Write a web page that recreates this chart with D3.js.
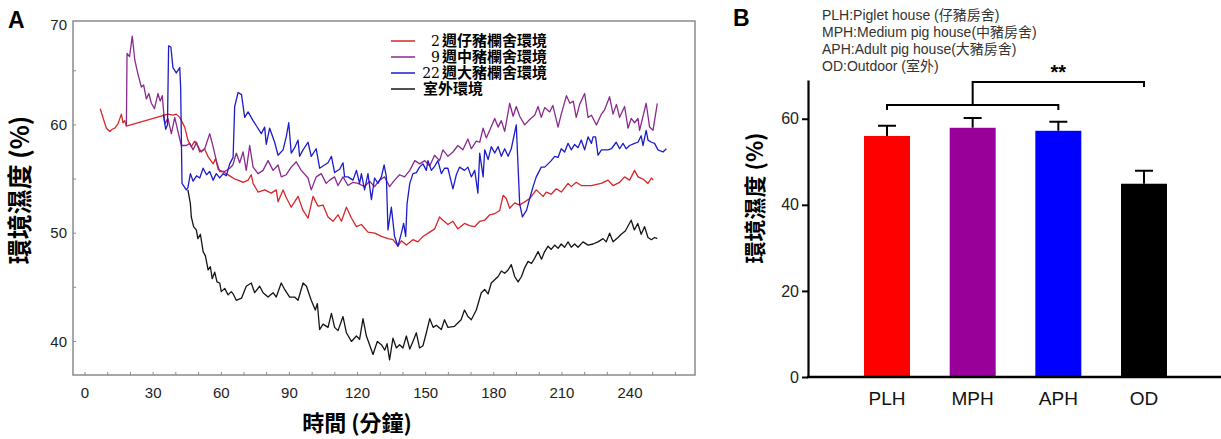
<!DOCTYPE html>
<html>
<head>
<meta charset="utf-8">
<script src="https://cdn.jsdelivr.net/npm/d3@7"></script>
<style>
body { margin: 0; background: #fff; }
svg { display: block; }
</style>
</head>
<body>
<svg id="chart" width="1221" height="439"></svg>
<script>
// panel A: humidity over time, [minute, %]
let pigletHouse = [[6.7,61.5],[8,60.6],[9.4,59.7],[10.9,59.4],[12,59.6],[13.1,59.7],[14.5,60.1],[16,61.0],[16.7,60.2],[17.5,60.4],[18.2,59.9],[36.5,61.0],[38.7,60.9],[40.2,61.0],[41.7,60.7],[43.9,59.8],[45.3,58.6],[46.8,58.0],[48.3,58.5],[49.8,58.0],[51.2,57.5],[52.6,57.8],[54.1,57.1],[56.4,56.4],[57.5,56.9],[58.6,55.9],[60.5,55.7],[62.2,55.5],[64.4,55.2],[65.9,55.0],[67.4,54.9],[69.6,54.7],[71.8,54.9],[73.2,55.4],[74,54.6],[76.2,53.8],[79.1,54.0],[82,53.7],[84.2,54.0],[85,52.9],[87.2,54.0],[88.6,53.3],[90.8,52.4],[93.8,53.4],[96,52.1],[98.2,51.4],[100.4,53.4],[102.6,52.5],[104.8,52.6],[107,51.5],[109.2,51.1],[111.4,51.7],[112.9,51.1],[115.1,52.4],[117.3,51.4],[119.5,50.6],[121.7,50.8],[124.6,50.1],[127.6,50.0],[130.5,49.7],[133.4,49.5],[135.6,49.4],[137.8,48.8],[139.3,49.3],[141.5,48.9],[144.4,49.4],[146.6,49.2],[148.8,49.7],[151.8,50.1],[154,50.4],[156.1,51.5],[157.6,51.2],[159.8,50.8],[162,51.1],[164.2,50.4],[167.1,50.9],[169.3,50.7],[171.6,50.6],[173.8,51.1],[176,51.2],[178.2,51.7],[180.4,51.8],[182.6,52.1],[184.1,53.5],[185.5,53.2],[187,52.3],[189.2,52.8],[191.4,52.6],[192.9,52.8],[195.8,53.2],[198.7,54.0],[201.7,53.4],[203.1,53.8],[205.3,53.6],[207.5,54.1],[209.7,53.8],[212.7,54.6],[214.1,54.3],[216.3,54.7],[218.5,54.4],[222.9,54.4],[227.3,54.6],[230.3,54.9],[232.5,54.4],[235.4,54.7],[237.6,55.2],[239.8,54.9],[242,55.8],[243.5,55.2],[245.7,55.0],[247.9,54.6],[249.4,55.1],[250.2,54.9]];

let mediumHouse = [[18.2,59.9],[18.5,66.6],[19.6,66.3],[20.8,68.2],[21.9,66.0],[23.3,64.7],[24.8,63.5],[25.8,63.7],[27,62.4],[28.1,62.9],[29.2,62.0],[30.6,61.5],[32.1,62.9],[33.1,62.2],[34,62.7],[35.1,60.1],[36.5,60.6],[38,59.2],[39.5,60.7],[40.9,59.4],[42.4,58.1],[44.6,58.1],[46.1,58.3],[47.6,57.7],[49.1,58.4],[50.5,57.5],[52.7,57.8],[54.9,59.2],[56.4,58.0],[57.8,56.7],[59.3,55.7],[61.5,55.7],[63.7,56.0],[65.1,56.3],[66.6,57.4],[68.1,56.5],[69.6,57.5],[71,55.8],[72.5,58.1],[74,56.1],[76.2,55.5],[78.4,55.8],[80.6,56.7],[82.8,55.8],[85,56.3],[86.4,55.2],[88.6,55.4],[90.8,56.1],[93,56.6],[95.2,55.8],[98.2,55.1],[99.6,54.0],[101.8,55.2],[104,55.5],[106.2,54.6],[107.7,54.9],[109.9,55.2],[111.4,54.4],[113.6,55.2],[115.8,54.4],[118,54.7],[120.2,54.6],[123.1,54.3],[125.3,54.8],[127.5,54.3],[129.7,54.9],[131.9,55.2],[134.1,54.3],[136.3,54.9],[138.5,55.4],[140.7,55.2],[143,55.8],[145.2,56.7],[147.4,56.4],[149.6,56.7],[151.8,56.2],[153.9,57.2],[156.1,56.7],[157.6,57.7],[159.8,57.1],[162,57.5],[164.2,58.1],[166.4,57.7],[168.6,58.7],[170.1,57.8],[172.3,58.5],[173.8,58.4],[175.3,59.7],[176.7,58.8],[178.2,59.5],[180.4,60.6],[181.9,59.8],[183.3,60.4],[184.8,59.4],[187,62.0],[188.5,60.8],[189.9,61.7],[191.4,60.8],[193.6,60.0],[195.8,60.5],[198,60.9],[199.5,61.7],[200.9,60.7],[202.4,61.6],[204.6,61.2],[206,61.8],[208.3,59.8],[209.7,61.0],[212,62.7],[213.5,62.0],[215,62.2],[216.3,60.7],[217.8,61.9],[220,62.9],[221.5,60.7],[223,60.9],[225.2,60.0],[227.4,61.0],[228.8,61.4],[231,62.6],[232.5,61.0],[234,61.9],[235.4,60.7],[237.6,61.7],[239.1,59.7],[240.5,60.6],[242,60.2],[243.5,60.6],[244.2,59.5],[247.1,62.0],[248.6,59.8],[250.1,59.5],[252,62.0]];

let adultHouse = [[34.5,61.0],[35.5,59.6],[36.3,60.0],[36.8,67.3],[37.8,67.2],[38.7,65.3],[40.2,64.8],[41.7,65.3],[42.1,63.5],[42.7,54.6],[44.6,54.0],[45.3,54.2],[46.4,55.5],[47.6,54.8],[49.1,55.3],[50.5,55.1],[52,56.0],[53.5,55.4],[54.9,55.7],[56.4,54.9],[57.8,55.5],[59.3,55.1],[60.8,55.5],[62.2,55.3],[63.7,56.4],[65.2,57.0],[65.9,61.7],[67.4,63.0],[68.9,62.8],[70.3,60.7],[71.8,61.2],[74,60.4],[75.5,59.9],[77.6,59.2],[79.1,59.8],[79.8,58.2],[81.3,59.7],[83.5,58.4],[85,57.2],[87.2,57.7],[88.6,58.9],[89.7,60.2],[90.8,57.4],[92.3,57.9],[93.8,58.6],[94.5,57.1],[96,57.7],[98.2,58.4],[99.6,57.1],[101.8,57.8],[103.3,56.0],[104.8,56.2],[107,56.5],[108.5,57.1],[109.9,55.6],[112.1,55.9],[113.6,56.5],[114.3,55.2],[115.8,55.2],[118,54.9],[119.5,55.8],[120.9,54.6],[121.7,55.5],[123.1,54.0],[124.6,55.5],[126.1,53.1],[127.5,55.1],[129,54.6],[130.5,55.2],[131.7,56.3],[132.7,55.2],[133.4,50.3],[134.9,52.4],[136.3,49.7],[137.8,48.8],[139.3,50.0],[140.3,50.9],[141.2,49.7],[141.8,52.7],[143,54.6],[144.4,55.5],[145.9,55.6],[147.3,56.1],[148.8,56.4],[150.3,55.8],[151,56.7],[152.5,55.8],[154,56.2],[155.4,56.7],[156.9,55.5],[158.3,56.0],[159.8,56.0],[162,54.1],[163.5,55.4],[164.9,56.1],[167.1,55.8],[168.6,56.1],[170.1,55.2],[171.6,55.8],[173,53.7],[173.8,57.4],[175.3,55.2],[176,57.7],[177.5,56.8],[178.9,58.0],[180.4,57.4],[181.9,58.0],[183.3,57.1],[184.8,57.8],[186.3,57.1],[187.7,57.8],[189.9,60.0],[191.4,52.7],[192.6,51.5],[194.4,52.1],[195.8,53.2],[197.3,54.3],[198.7,55.2],[200.9,56.1],[202.4,56.1],[203.9,56.4],[205.3,56.7],[206.8,57.1],[208.3,57.0],[209.7,57.8],[211.2,57.5],[212.7,58.3],[214.1,57.7],[215.6,58.2],[217.1,57.9],[218.5,58.6],[220,57.7],[221.5,58.9],[223,58.3],[223.7,58.9],[224.8,58.9],[225.9,57.2],[227.4,57.7],[230.3,57.7],[231.8,57.8],[233.9,58.4],[235.4,57.8],[236.9,58.3],[238.3,57.8],[239.8,58.1],[242,58.3],[243.5,58.4],[244.9,59.0],[245.7,58.1],[247.1,59.5],[247.9,58.6],[249.4,58.4],[250.8,58.3],[252.3,57.7],[254.5,57.5],[256,57.8]];

let outdoor = [[45.3,54.0],[46.4,52.7],[46.8,51.5],[47.8,50.6],[49,50.3],[49.7,49.5],[50.8,49.9],[52,48.3],[53,47.9],[54.2,46.6],[55.2,46.9],[56,45.8],[57.1,46.4],[58.1,45.5],[59.3,45.4],[60,44.6],[61.5,44.9],[63,44.3],[64.4,44.6],[65.2,44.4],[66.6,43.8],[68.9,44.0],[71,45.1],[73.2,45.4],[74.7,44.5],[76.9,45.1],[78.4,44.5],[80.6,44.1],[82.8,44.5],[84.2,44.1],[86.4,45.4],[87.9,44.8],[90.1,44.1],[92.3,44.1],[93.8,43.8],[96,45.4],[97.5,45.1],[99.6,43.8],[101.4,42.9],[102.3,43.5],[103.3,41.1],[104.8,41.6],[107,41.3],[108.5,42.6],[109.9,41.3],[111.4,41.0],[113.6,42.3],[115.1,40.8],[117.3,40.0],[119.5,40.5],[120.9,40.2],[122.4,42.1],[123.9,40.5],[125.3,39.7],[126.8,38.8],[128.7,40.0],[130.5,39.7],[132,39.2],[133,39.8],[134.1,38.3],[135.6,40.3],[137.1,39.4],[138.5,39.7],[140,39.4],[141.5,40.5],[143,39.3],[144.4,40.0],[145.9,40.8],[147.3,39.4],[148.8,39.6],[150.3,40.8],[151.8,42.1],[153.3,41.3],[154.7,41.5],[156.9,41.1],[158.3,42.0],[159.8,41.3],[162.7,41.4],[165.6,42.0],[167.1,42.9],[168.6,42.3],[170.1,42.0],[172.3,42.9],[174.5,44.5],[176,44.8],[177.5,44.4],[178.9,45.4],[180.4,45.7],[181.9,46.0],[183.3,46.5],[184.8,46.3],[186.3,46.6],[187.7,47.1],[189.2,46.0],[190.7,45.5],[192.2,46.0],[193.6,46.8],[195.1,47.4],[196.6,47.2],[198,47.7],[199.5,48.3],[201,47.6],[202.4,48.3],[203.9,48.8],[205.3,48.5],[206.8,48.9],[208.3,48.6],[209.7,49.0],[211.2,48.7],[212.7,49.2],[214.1,48.7],[215.6,49.0],[217.1,48.7],[219.3,49.2],[221.5,48.9],[223.7,49.0],[225.9,49.2],[228.1,49.5],[229.5,49.2],[231,50.0],[232.5,49.2],[234.7,49.6],[236.1,49.9],[237.9,50.2],[240.5,51.2],[241.9,50.3],[243.4,50.9],[244.9,49.9],[246.4,50.6],[247.9,49.6],[249.4,49.4],[250.8,49.6],[252,49.5]];

let line_colors = ['#d8262a', '#8a2a8e', '#1c1ccc', '#151515'];
let legend_nums = ['2', '9', '22', ''];
let legend_names = ['週仔豬欄舍環境', '週中豬欄舍環境', '週大豬欄舍環境', '室外環境'];
let x_ticks_a = [0, 30, 60, 90, 120, 150, 180, 210, 240];
let y_ticks_a = [40, 50, 60, 70];

// panel B: mean humidity per house
let categories = ['PLH', 'MPH', 'APH', 'OD'];
let means = [56.0, 57.9, 57.2, 44.9];
let errors = [2.4, 2.3, 2.1, 3.0];
let bar_colors = ['#ff0000', '#990099', '#0000ff', '#000000'];
let abbrev_notes = ['PLH:Piglet house (仔豬房舍)', 'MPH:Medium pig house(中豬房舍)', 'APH:Adult pig house(大豬房舍)', 'OD:Outdoor (室外)'];
let y_ticks_b = [0, 20, 40, 60];

let svg = d3.select('#chart');
let sans = 'Arial, "Liberation Sans", "Noto Sans CJK TC", sans-serif';
let cjk = '"Noto Sans CJK TC", "Noto Sans CJK SC", sans-serif';

// ---------- panel A ----------
let xA = d3.scaleLinear().domain([-5.3, 268.6]).range([73, 695]);
let yA = d3.scaleLinear().domain([36.9, 69.6]).range([375, 21]);

let gA = svg.append('g');

gA.append('rect')
	.attr('x', xA.range()[0])
	.attr('y', yA.range()[1])
	.attr('width', xA.range()[1] - xA.range()[0])
	.attr('height', yA.range()[0] - yA.range()[1])
	.attr('fill', 'none')
	.attr('stroke', '#8a8a8a')
	.attr('stroke-width', 1.5);

gA.selectAll('.xtick')
	.data(d3.range(0, 270, 10))
	.enter().append('line')
	.attr('x1', d => xA(d)).attr('x2', d => xA(d))
	.attr('y1', yA.range()[0]).attr('y2', yA.range()[0] - 3)
	.attr('stroke', '#8a8a8a');

gA.selectAll('.ytick')
	.data(d3.range(40, 70, 5))
	.enter().append('line')
	.attr('x1', xA.range()[0]).attr('x2', xA.range()[0] + 3)
	.attr('y1', d => yA(d)).attr('y2', d => yA(d))
	.attr('stroke', '#8a8a8a');

gA.selectAll('.xlab')
	.data(x_ticks_a)
	.enter().append('text')
	.attr('x', d => xA(d))
	.attr('y', 393)
	.attr('dy', '0.35em')
	.attr('text-anchor', 'middle')
	.style('font-family', sans).style('font-size', '15px').attr('fill', '#222')
	.text(d => d);

gA.selectAll('.ylab')
	.data(y_ticks_a)
	.enter().append('text')
	.attr('x', 67)
	.attr('y', d => Math.max(yA(d), 25))
	.attr('dy', '0.35em')
	.attr('text-anchor', 'end')
	.style('font-family', sans).style('font-size', '15px').attr('fill', '#222')
	.text(d => d);

let line = d3.line().x(d => xA(d[0])).y(d => yA(d[1]));
[pigletHouse, mediumHouse, adultHouse, outdoor].forEach((s, i) => {
	gA.append('path')
		.datum(s)
		.attr('d', line)
		.attr('fill', 'none')
		.attr('stroke', line_colors[i])
		.attr('stroke-width', 1.3)
		.attr('stroke-linejoin', 'round');
});

// legend
legend_names.forEach((name, i) => {
	let y = 41 + i * 16;
	gA.append('line')
		.attr('x1', 391).attr('x2', 415)
		.attr('y1', y).attr('y2', y)
		.attr('stroke', line_colors[i]).attr('stroke-width', 1.5);
	if (legend_nums[i]) {
		gA.append('text')
			.attr('x', 440).attr('y', y).attr('dy', '0.36em')
			.attr('text-anchor', 'end')
			.style('font-family', '"DejaVu Serif", serif').style('font-size', '14px')
			.text(legend_nums[i]);
	}
	gA.append('text')
		.attr('x', legend_nums[i] ? 442 : 423).attr('y', y).attr('dy', '0.36em')
		.style('font-family', cjk).style('font-size', '15px').style('font-weight', 'bold')
		.text(name);
});

gA.append('text')
	.attr('x', 8).attr('y', 28)
	.style('font-family', sans).style('font-size', '23px').style('font-weight', 'bold')
	.text('A');

gA.append('text')
	.attr('transform', 'translate(20,190) rotate(-90)')
	.attr('text-anchor', 'middle').attr('dy', '0.35em')
	.style('font-family', cjk).style('font-size', '25px').style('font-weight', 'bold')
	.text('環境濕度 (%)');

gA.append('text')
	.attr('x', 357).attr('y', 423).attr('dy', '0.35em')
	.attr('text-anchor', 'middle')
	.style('font-family', cjk).style('font-size', '22px').style('font-weight', 'bold')
	.text('時間 (分鐘)');

// ---------- panel B ----------
let xB = d3.scalePoint().domain(categories).range([887, 1144]);
let yB = d3.scaleLinear().domain([0, 69]).range([377, 80]);
let bar_w = 46, cap_w = 18;

let gB = svg.append('g');

gB.append('text')
	.attr('x', 733).attr('y', 26)
	.style('font-family', sans).style('font-size', '23px').style('font-weight', 'bold')
	.text('B');

gB.selectAll('.note')
	.data(abbrev_notes)
	.enter().append('text')
	.attr('x', 822)
	.attr('y', (d, i) => 15 + i * 17)
	.attr('dy', '0.35em')
	.style('font-family', sans).style('font-size', '14px').attr('fill', '#333')
	.text(d => d);

// error bars first, bars cover the lower half
gB.selectAll('.err')
	.data(categories)
	.enter().append('path')
	.attr('d', (d, i) => {
		let cx = xB(d), top = yB(means[i] + errors[i]);
		return `M${cx},${yB(means[i])}V${top}M${cx - cap_w / 2},${top}H${cx + cap_w / 2}`;
	})
	.attr('stroke', '#000').attr('stroke-width', 2).attr('fill', 'none');

gB.selectAll('.bar')
	.data(categories)
	.enter().append('rect')
	.attr('x', d => xB(d) - bar_w / 2)
	.attr('y', (d, i) => yB(means[i]))
	.attr('width', bar_w)
	.attr('height', (d, i) => yB(0) - yB(means[i]))
	.attr('fill', (d, i) => bar_colors[i]);

let yAxisB = gB.append('g')
	.attr('transform', 'translate(808,0)')
	.call(d3.axisLeft(yB).tickValues(y_ticks_b).tickSize(6).tickSizeOuter(0));
yAxisB.select('.domain').attr('stroke-width', 2.2);
yAxisB.selectAll('.tick line').attr('stroke-width', 2);
yAxisB.selectAll('.tick text')
	.style('font-family', sans).style('font-size', '16px').attr('fill', '#222').attr('x', -9);

gB.append('line')
	.attr('x1', 807).attr('x2', 1221)
	.attr('y1', yB(0)).attr('y2', yB(0))
	.attr('stroke', '#000').attr('stroke-width', 2.5);

gB.selectAll('.cat')
	.data(categories)
	.enter().append('text')
	.attr('x', d => xB(d))
	.attr('y', 398).attr('dy', '0.35em')
	.attr('text-anchor', 'middle')
	.style('font-family', sans).style('font-size', '19px').attr('fill', '#111')
	.text(d => d);

gB.append('text')
	.attr('transform', 'translate(755,198) rotate(-90)')
	.attr('text-anchor', 'middle').attr('dy', '0.35em')
	.style('font-family', cjk).style('font-size', '22px').style('font-weight', 'bold')
	.text('環境濕度 (%)');

// significance brackets
let low_y = 105, high_y = 82;
let mid = (xB('PLH') + xB('APH')) / 2;
gB.append('path')
	.attr('d', `M${xB('PLH')},${low_y + 5}V${low_y}H${xB('APH')}V${low_y + 5}`)
	.attr('stroke', '#000').attr('stroke-width', 2).attr('fill', 'none');
gB.append('path')
	.attr('d', `M${mid},${low_y}V${high_y}H${xB('OD')}V${high_y + 5}`)
	.attr('stroke', '#000').attr('stroke-width', 2).attr('fill', 'none');
gB.append('text')
	.attr('x', (mid + xB('OD')) / 2).attr('y', 79)
	.attr('text-anchor', 'middle')
	.style('font-family', sans).style('font-size', '20px').style('font-weight', 'bold')
	.text('**');
</script>
</body>
</html>
